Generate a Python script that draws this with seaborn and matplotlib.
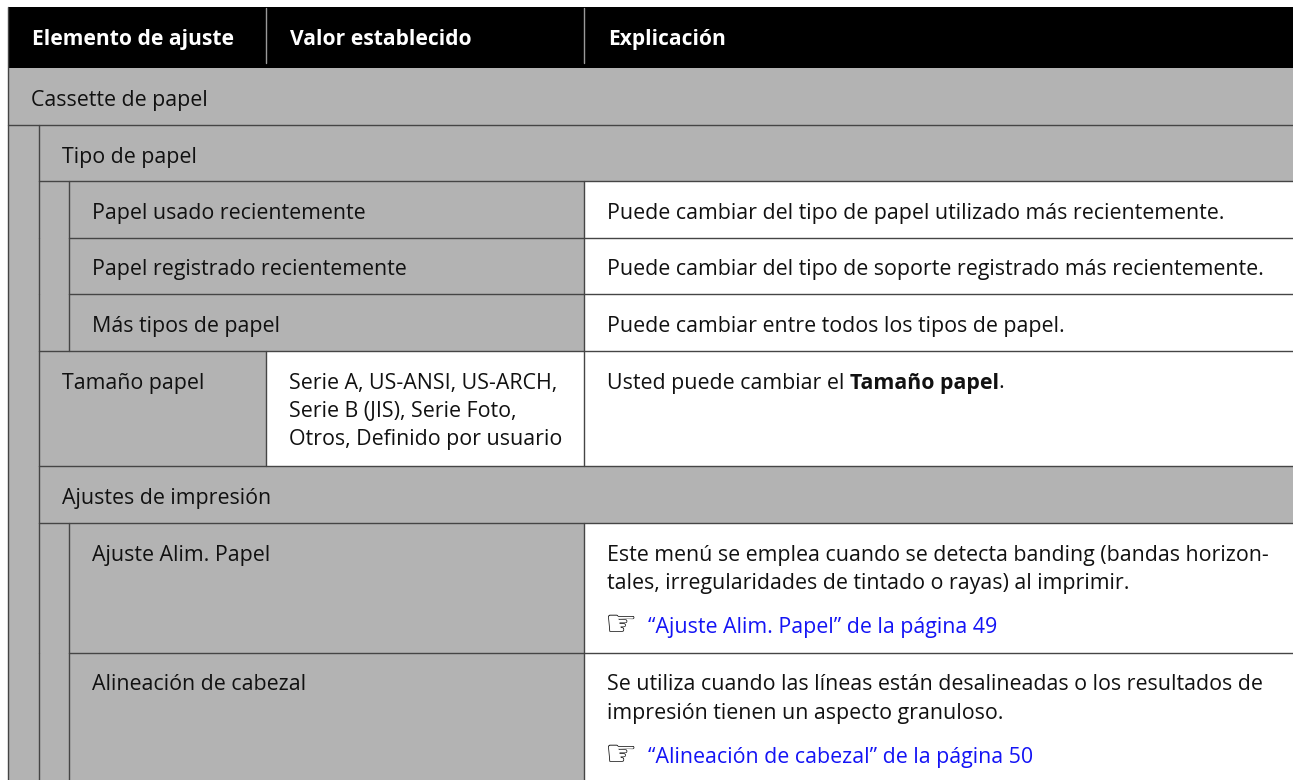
import matplotlib
matplotlib.use("Agg")
import matplotlib.pyplot as plt
import seaborn as sns
from matplotlib.patches import Rectangle

# ---------------- data ----------------
headers = ["Elemento de ajuste", "Valor establecido", "Explicación"]

labels = ["Cassette de papel", "Tipo de papel", "Papel usado recientemente",
          "Papel registrado recientemente", "Más tipos de papel", "Tamaño papel",
          "Ajustes de impresión", "Ajuste Alim. Papel", "Alineación de cabezal"]
levels = [0, 1, 2, 2, 2, 1, 1, 2, 2]
values = [None, None, None, None, None,
          ["Serie A, US-ANSI, US-ARCH,", "Serie B (JIS), Serie Foto,",
           "Otros, Definido por usuario"],
          None, None, None]
explanations = [None, None,
                ["Puede cambiar del tipo de papel utilizado más recientemente."],
                ["Puede cambiar del tipo de soporte registrado más recientemente."],
                ["Puede cambiar entre todos los tipos de papel."],
                ["Usted puede cambiar el **Tamaño papel**."],
                None,
                ["Este menú se emplea cuando se detecta banding (bandas horizon-",
                 "tales, irregularidades de tintado o rayas) al imprimir."],
                ["Se utiliza cuando las líneas están desalineadas o los resultados de",
                 "impresión tienen un aspecto granuloso."]]
links = [None, None, None, None, None, None, None,
         "“Ajuste Alim. Papel” de la página 49",
         "“Alineación de cabezal” de la página 50"]

# ---------------- style / layout ----------------
W, H = 1293, 780
GRAY = "#b3b3b3"
LINE = "#454545"
LINK = "#1414f5"
X0 = 8
INDENT = [8, 39, 69]
COL2, COL3 = 266, 584
PAD = 23
HEAD_TOP, HEAD_BOT = 7, 68
BASE_OFF = 38
LSP = 28.5
LINK_GAP = 44

sns.set_theme(style="white")
plt.rcParams['font.family'] = ['Open Sans', 'DejaVu Sans']

fig = plt.figure(figsize=(W / 100, H / 100), dpi=100)
ax = fig.add_axes([0, 0, 1, 1])
ax.set_xlim(0, W)
ax.set_ylim(H, 0)
ax.axis("off")
renderer = fig.canvas.get_renderer()


def text_width(s, **kw):
    t = ax.text(0, 0, s, **kw)
    w = t.get_window_extent(renderer).width
    t.remove()
    return w


# fit font sizes to the reference widths
FS = 10 * 616 / text_width("Puede cambiar del tipo de papel utilizado más recientemente.", fontsize=10)
FSB = 10 * 202 / text_width("Elemento de ajuste", fontsize=10, fontweight="bold")


def rich_text(x, y, s, color="#111111"):
    parts = s.split("**")
    for i, p in enumerate(parts):
        if not p:
            continue
        bold = (i % 2 == 1)
        kw = dict(fontsize=FS, fontweight="bold" if bold else "normal", color=color)
        ax.text(x, y, p, va="baseline", ha="left", **kw)
        w = text_width(p.rstrip(), **kw)
        if p.endswith(" "):
            w += text_width("x x", **kw) - text_width("xx", **kw)
        x += w


# ---------------- header ----------------
ax.add_patch(Rectangle((X0, HEAD_TOP), W - X0 + 5, HEAD_BOT - HEAD_TOP, color="black", lw=0))
for x, h in zip([X0, COL2, COL3], headers):
    ax.text(x + PAD + 1, HEAD_TOP + 38, h, color="white", fontsize=FSB, fontweight="bold",
            va="baseline", ha="left")
for x in [COL2, COL3]:
    ax.plot([x, x], [HEAD_TOP + 1, HEAD_BOT - 5], color="#9a9a9a", lw=1.0)

# ---------------- body ----------------
ax.add_patch(Rectangle((X0, HEAD_BOT), W - X0 + 5, H - HEAD_BOT + 5, color=GRAY, lw=0))

top = HEAD_BOT
prev_level = 0
for i, lab in enumerate(labels):
    lev = levels[i]
    val = values[i]
    exp = explanations[i]
    lnk = links[i]
    nlines = max(len(val) if val else 1, len(exp) if exp else 1)
    height = 56.5 + 29.5 * (nlines - 1) + (LINK_GAP if lnk else 0)
    bot = top + height

    # white cells
    if exp is not None:
        ax.add_patch(Rectangle((COL3, top), W - COL3 + 5, height, color="white", lw=0))
    if val is not None:
        ax.add_patch(Rectangle((COL2, top), COL3 - COL2, height, color="white", lw=0))

    # lines
    if i > 0:
        ax.plot([INDENT[min(lev, prev_level)], W + 5], [top, top], color=LINE, lw=1.0)
    for k in range(1, lev + 1):
        ax.plot([INDENT[k], INDENT[k]], [top, bot], color=LINE, lw=1.0)
    if exp is not None:
        ax.plot([COL3, COL3], [top, bot], color=LINE, lw=1.0)
    if val is not None:
        ax.plot([COL2, COL2], [top, bot], color=LINE, lw=1.0)

    base = top + BASE_OFF
    ax.text(INDENT[lev] + PAD, base, lab, fontsize=FS, color="#111111",
            va="baseline", ha="left")
    if val:
        for j, line in enumerate(val):
            ax.text(COL2 + PAD, base + j * LSP, line, fontsize=FS, color="#111111",
                    va="baseline", ha="left")
    if exp:
        for j, line in enumerate(exp):
            rich_text(COL3 + PAD, base + j * LSP, line)
    if lnk:
        yb = base + (len(exp) - 1) * LSP + LINK_GAP
        ax.text(COL3 + PAD - 2, yb + 1, "☞", family="DejaVu Sans", fontsize=FS * 1.7,
                color="black", va="baseline", ha="left")
        ax.text(COL3 + PAD + 41, yb, lnk, fontsize=FS, color=LINK, va="baseline", ha="left")

    top = bot
    prev_level = lev

ax.plot([X0, X0], [HEAD_TOP, H + 5], color=LINE, lw=1.0)

fig.savefig("out.png", dpi=100)
